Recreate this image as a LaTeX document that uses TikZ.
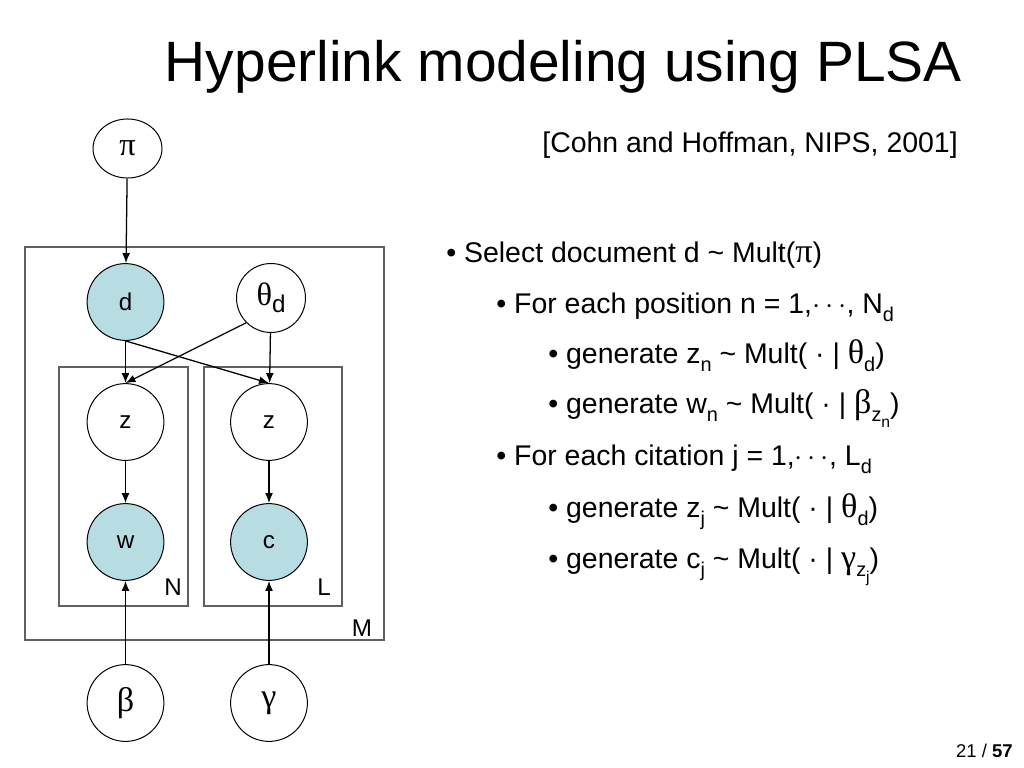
\documentclass[tikz,border=0pt]{standalone}
\usepackage{fontspec}
\setmainfont{Liberation Sans}
\newfontfamily\grk[Scale=1.2]{Liberation Serif}
\usetikzlibrary{arrows.meta,shapes.geometric}
\definecolor{hellblau}{RGB}{183,220,225}
\definecolor{rahmen}{RGB}{96,96,96}
\newcommand\tief[1]{\raisebox{-0.3em}{\fontsize{14}{16}\selectfont #1}}
\newcommand\tiefer[1]{\raisebox{-0.3em}{\fontsize{11}{13}\selectfont #1}}

\begin{document}
\begin{tikzpicture}[x=0.703125pt,y=-0.703125pt,
    knoten/.style={circle,draw,line width=0.7pt,minimum size=54pt,inner sep=0pt,font=\fontsize{17}{20}\selectfont},
    beob/.style={knoten,fill=hellblau},
    platte/.style={draw=rahmen,line width=1pt},
    pfeil/.style={-{Latex[length=7pt,width=5.5pt]},line width=0.9pt},
    zeile/.style={anchor=base west,inner sep=0pt,font=\fontsize{20}{24}\selectfont}]
  \useasboundingbox (0,0) rectangle (1024,768);

  % Titel
  \node[anchor=base east,inner sep=0pt,font=\fontsize{40}{48}\selectfont] (titel) at (962,82) {Hyperlink modeling using PLSA};
  \node[anchor=base east,inner sep=0pt,font=\fontsize{20}{24}\selectfont] (quelle) at (958,153) {[Cohn and Hoffman, NIPS, 2001]};

  % Platten
  \draw[platte] (25,247) rectangle (384,640);
  \draw[platte] (59,367) rectangle (188,606);
  \draw[platte] (204,367) rectangle (342,606);
  \node[font=\fontsize{17}{20}\selectfont] (labN) at (173,587) {N};
  \node[font=\fontsize{17}{20}\selectfont] (labL) at (324,587) {L};
  \node[font=\fontsize{17}{20}\selectfont] (labM) at (362,628) {M};

  % Knoten
  \node[ellipse,draw,line width=0.7pt,minimum width=48.5pt,minimum height=41.5pt,inner sep=0pt,font=\fontsize{19}{22}\grk] (pi) at (127.5,148.5) {π};
  \node[beob] (d) at (125.5,302) {d};
  \node[knoten,minimum size=48.5pt] (th) at (271,298) {{\fontsize{19}{22}\grk θ}\raisebox{-0.3em}{d}};
  \node[knoten] (zl) at (125.5,422) {z};
  \node[knoten] (zr) at (269,422) {z};
  \node[beob] (w) at (125.5,542) {w};
  \node[beob] (c) at (269,542) {c};
  \node[knoten,font=\fontsize{20}{24}\grk] (be) at (125.5,703) {β};
  \node[knoten,font=\fontsize{20}{24}\grk] (ga) at (269,703) {γ};

  % Pfeile
  \draw[pfeil] (pi) -- (d);
  \draw[pfeil] (d) -- (zl);
  \draw[pfeil] (d.south) -- (zr.north);  % kreuzt
  \draw[pfeil] (th.south west) -- (zl.north);  % kreuzt
  \draw[pfeil] (th) -- (zr);
  \draw[pfeil] (zl) -- (w);
  \draw[pfeil] (zr) -- (c);
  \draw[pfeil] (be) -- (w);
  \draw[pfeil] (ga) -- (c);

  % Text rechts
  \node[zeile] (z1) at (446,263) {• Select document d \textasciitilde{} Mult({\grk π})};
  \node[zeile] (z2) at (496,313) {• For each position n = 1,$\cdots$, N\tief{d}};
  \node[zeile] (z3) at (548,363) {• generate z\tief{n} \textasciitilde{} Mult( · | {\grk θ}\tief{d})};
  \node[zeile] (z4) at (548,413) {• generate w\tief{n} \textasciitilde{} Mult( · | {\grk β}\tief{z\tiefer{n}})};
  \node[zeile] (z5) at (496,465) {• For each citation j = 1,$\cdots$, L\tief{d}};
  \node[zeile] (z6) at (548,517) {• generate z\tief{j} \textasciitilde{} Mult( · | {\grk θ}\tief{d})};
  \node[zeile] (z7) at (548,568) {• generate c\tief{j} \textasciitilde{} Mult( · | {\grk γ}\tief{z\tiefer{j}})};

  % Seitenzahl
  \node[anchor=base east,inner sep=0pt,font=\fontsize{13}{15}\selectfont] (seite) at (1013,757) {21 / \textbf{57}};
\end{tikzpicture}
\end{document}
